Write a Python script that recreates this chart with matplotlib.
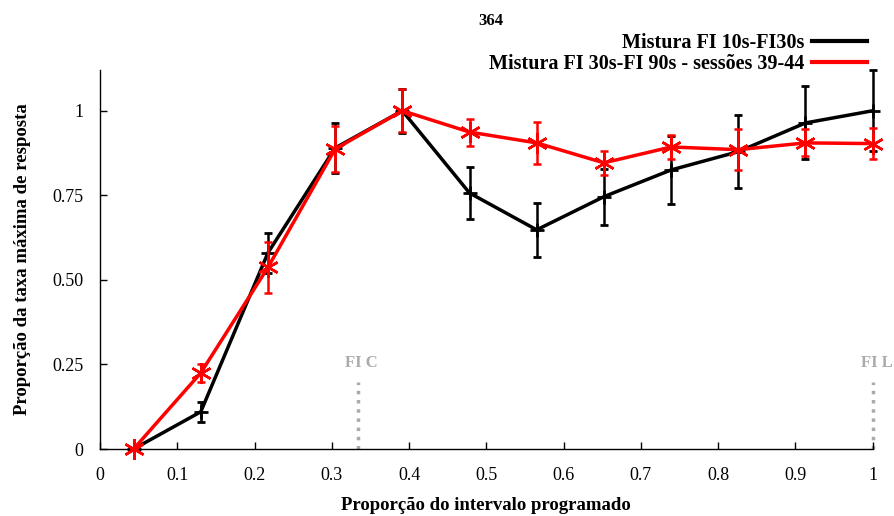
import matplotlib
matplotlib.use("Agg")
import matplotlib.pyplot as plt
from matplotlib.lines import Line2D

plt.rcParams['font.family'] = ['Liberation Serif', 'DejaVu Serif']

x = [1/23, 3/23, 5/23, 7/23, 9/23, 11/23, 13/23, 15/23, 17/23, 19/23, 21/23, 1.0]
black_y = [0.0, 0.11, 0.58, 0.89, 1.0, 0.757, 0.648, 0.746, 0.825, 0.879, 0.964, 1.0]
black_err = [0.0, 0.03, 0.06, 0.075, 0.065, 0.077, 0.08, 0.083, 0.1, 0.108, 0.108, 0.12]
red_y = [0.0, 0.225, 0.537, 0.887, 1.0, 0.937, 0.905, 0.846, 0.893, 0.885, 0.905, 0.903]
red_err = [0.0, 0.027, 0.075, 0.068, 0.063, 0.04, 0.063, 0.035, 0.036, 0.06, 0.04, 0.045]

label_black = "Mistura FI 10s-FI30s"
label_red = "Mistura FI 30s-FI 90s - sessões 39-44"
xticks = [0, 0.1, 0.2, 0.3, 0.4, 0.5, 0.6, 0.7, 0.8, 0.9, 1]
xticklabels = ["0", "0.1", "0.2", "0.3", "0.4", "0.5", "0.6", "0.7", "0.8", "0.9", "1"]
yticks = [0, 0.25, 0.5, 0.75, 1]
yticklabels = ["0", "0.25", "0.50", "0.75", "1"]
markers_fi = [(1/3, "FI C"), (1.0, "FI L")]

fig = plt.figure(figsize=(8.95, 5.16), dpi=100)
ax = fig.add_axes([0.1117, 0.1298, 0.975 - 0.1117, 0.864 - 0.1298])

ax.errorbar(x, black_y, yerr=black_err, color='black', lw=2.5, marker='+', ms=10,
            mew=2, capsize=3, elinewidth=1.8, capthick=1.5,
            clip_on=False, zorder=3)
ax.errorbar(x, red_y, yerr=red_err, color='red', lw=2.5, marker=(6, 2, 0), ms=15,
            mew=1.8, capsize=3, elinewidth=1.8, capthick=1.5,
            clip_on=False, zorder=4)

for xv, lab in markers_fi:
    ax.plot([xv, xv], [0, 0.198], color='#aaaaaa', ls=':', lw=2.5, clip_on=False, zorder=1)
    ax.text(xv + 0.005, 0.232, lab, color='#aaaaaa', fontsize=12, fontweight='bold',
            ha='center', va='bottom', clip_on=False)

ax.set_xlim(0, 1)
ax.set_ylim(0, 1.12)
ax.set_xticks(xticks)
ax.set_xticklabels(xticklabels, fontsize=13)
ax.set_yticks(yticks)
ax.set_yticklabels(yticklabels, fontsize=13)
ax.tick_params(direction='in', length=5, width=1)
ax.tick_params(axis='x', pad=13)
ax.tick_params(axis='y', pad=12)
for s in ['top', 'right']:
    ax.spines[s].set_visible(False)
ax.spines['left'].set_linewidth(1)
ax.spines['bottom'].set_linewidth(1)

ax.set_xlabel("Proporção do intervalo programado", fontsize=13.5, fontweight='bold', labelpad=9)
ax.set_ylabel("Proporção da taxa máxima de resposta", fontsize=13.5, fontweight='bold', labelpad=15)

fig.text(0.548, 0.96, "364", fontsize=12, fontweight='bold', ha='center', va='center')

handles = [Line2D([0], [0], color='black', lw=3), Line2D([0], [0], color='red', lw=3)]
leg = ax.legend(handles, [label_black, label_red], loc='lower right',
                bbox_to_anchor=(0.995, 0.985), frameon=False, markerfirst=False,
                fontsize=14.5, handlelength=2.7, handletextpad=0.4, labelspacing=0.05,
                borderaxespad=0.0, borderpad=0.1)
for t in leg.get_texts():
    t.set_fontweight('bold')

fig.savefig("out.png", dpi=100)
